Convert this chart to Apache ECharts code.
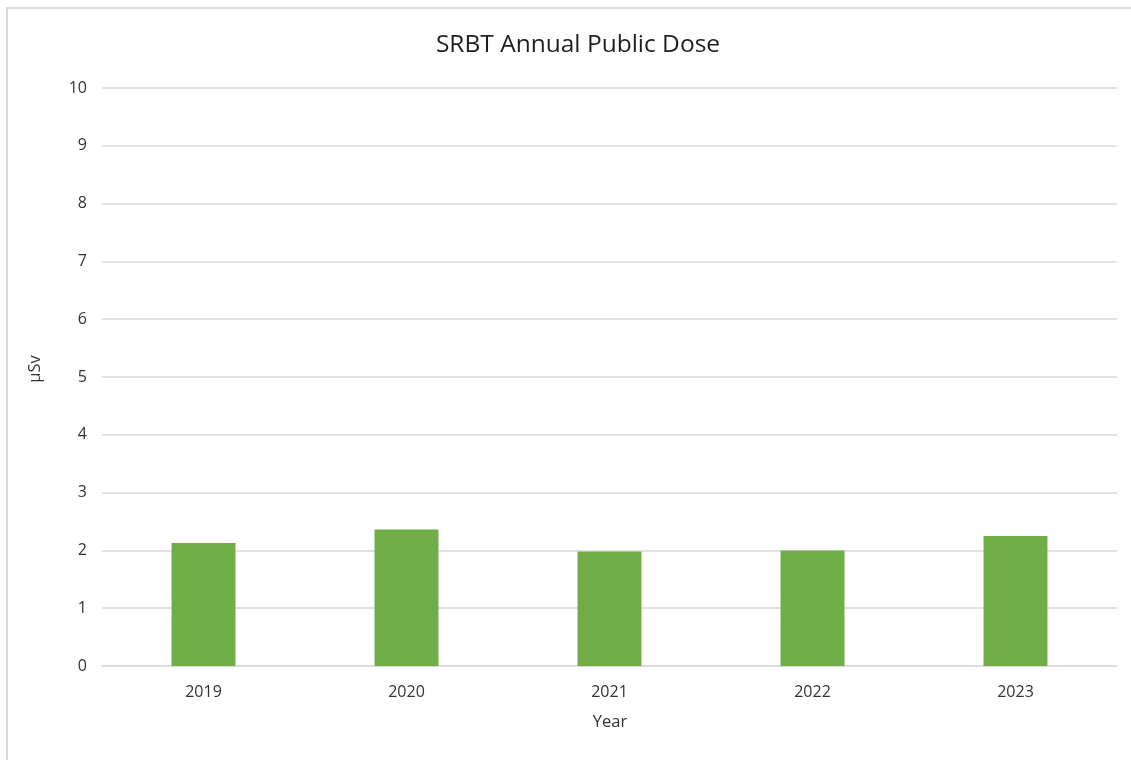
<!DOCTYPE html>
<html>
<head>
<meta charset="utf-8">
<script src="https://cdn.jsdelivr.net/npm/echarts@6/dist/echarts.min.js"></script>
<style>
html,body{margin:0;padding:0;background:#fff;}
#chart{width:1131px;height:760px;}
</style>
</head>
<body>
<div id="chart"></div>
<script>
const titleText = 'SRBT Annual Public Dose';
const categories = ['2019', '2020', '2021', '2022', '2023'];
const doseValues = [2.13, 2.36, 1.98, 2.00, 2.25];
const yAxisName = 'μSv';
const xAxisName = 'Year';

const FONT = '"Open Sans", "Noto Sans", sans-serif';
const chart = echarts.init(document.getElementById('chart'), null, {renderer: 'canvas'});
chart.setOption({
  animation: false,
  backgroundColor: '#ffffff',
  title: {
    text: titleText,
    left: 573,
    textAlign: 'center',
    top: 28,
    textStyle: {fontFamily: FONT, fontSize: 24.5, fontWeight: 'normal', color: '#1f1f1f'}
  },
  grid: {left: 102, right: 14, top: 88, bottom: 94, containLabel: false},
  xAxis: {
    type: 'category',
    data: categories,
    axisLine: {show: true, lineStyle: {color: '#d9d9d9', width: 1.5}},
    axisTick: {show: false},
    axisLabel: {fontFamily: FONT, fontSize: 16, color: '#333333', margin: 18}
  },
  yAxis: {
    type: 'value',
    min: 0,
    max: 10,
    interval: 1,
    axisLine: {show: false},
    axisTick: {show: false},
    splitLine: {lineStyle: {color: '#d9d9d9', width: 1.5}},
    axisLabel: {fontFamily: FONT, fontSize: 16, color: '#333333', margin: 15}
  },
  graphic: [
    {
      type: 'rect',
      silent: true,
      shape: {x: 7, y: 8, width: 1300, height: 900},
      style: {fill: 'none', stroke: '#d9d9d9', lineWidth: 2},
      z: 0
    },
    {
      type: 'text',
      x: 35, y: 369,
      rotation: Math.PI / 2,
      style: {text: yAxisName, fontFamily: FONT, fontSize: 16.5, fill: '#333333', align: 'center', verticalAlign: 'middle'}
    },
    {
      type: 'text',
      x: 610, y: 722,
      style: {text: xAxisName, fontFamily: FONT, fontSize: 16.5, fill: '#333333', align: 'center', verticalAlign: 'middle'}
    }
  ],
  series: [{
    type: 'bar',
    data: doseValues,
    barWidth: '31.5%',
    itemStyle: {color: '#70ad47'}
  }]
});
</script>
</body>
</html>
